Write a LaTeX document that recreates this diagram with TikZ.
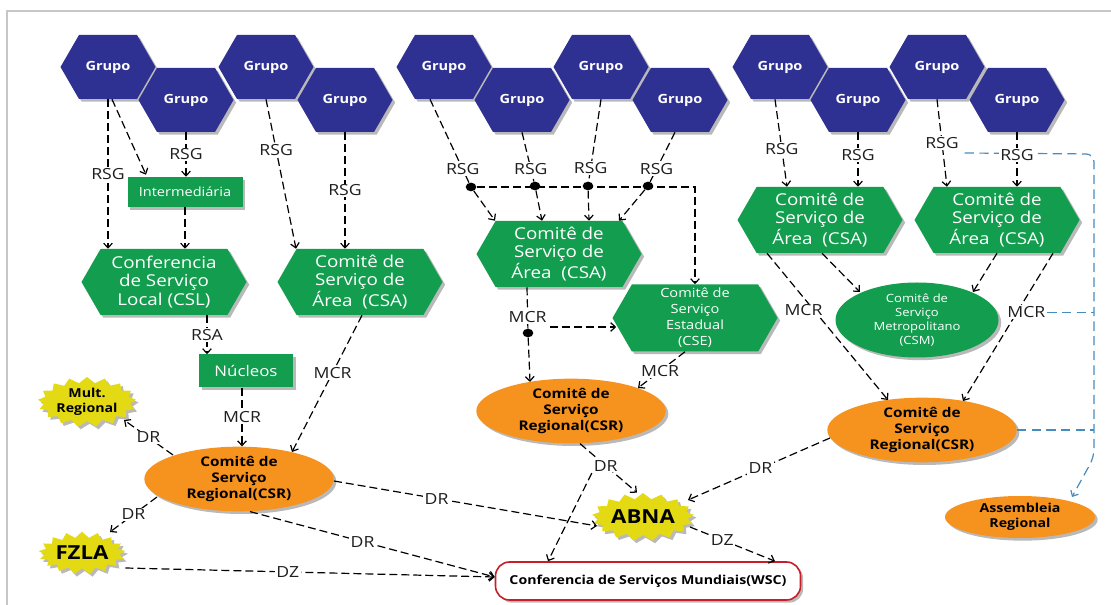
\documentclass[tikz,border=0pt]{standalone}
\usepackage{fontspec}
\setmainfont{Open Sans}[FakeStretch=1.15]
\usetikzlibrary{shapes.symbols,shapes.geometric,arrows.meta,calc,shadows,backgrounds}
\definecolor{navy}{RGB}{46,49,146}
\definecolor{grn}{RGB}{18,158,78}
\definecolor{org}{RGB}{246,146,30}
\definecolor{ylw}{RGB}{228,218,20}
\definecolor{wscred}{RGB}{200,30,40}
\definecolor{bline}{RGB}{70,140,190}
\definecolor{lbltxt}{RGB}{30,30,30}
\tikzset{
  shd/.style={drop shadow={shadow xshift=2pt,shadow yshift=-2pt,fill=black!50,opacity=0.55}},
  grupo/.style={signal, signal to=west and east, signal pointer angle=120, fill=navy, shd,
    minimum width=71.25pt, minimum height=48pt, inner sep=0pt, text=white,
    font=\bfseries\fontsize{9.5}{11}\selectfont},
  ghex/.style={signal, signal to=west and east, signal pointer angle=120, fill=grn, shd,
    minimum width=123.75pt, minimum height=49.5pt, inner sep=0pt, text=white, align=center,
    font=\fontsize{12.25}{13.75}\selectfont},
  grect/.style={rectangle, fill=grn, shd, inner sep=0pt, text=white},
  csr/.style={ellipse, fill=org, shd, minimum width=142pt, minimum height=48.5pt, inner sep=0pt,
    align=center, font=\bfseries\fontsize{10}{11.75}\selectfont},
  burst/.style={starburst, starburst points=17, starburst point height=4.5pt, random starburst=0,
    fill=ylw, shd, inner sep=0pt, align=center},
  conn/.style={draw=black, line width=0.9pt, dash pattern=on 6pt off 3pt,
    -{Straight Barb[length=3.5pt,width=6.5pt]}},
  dline/.style={draw=black, line width=0.9pt, dash pattern=on 6pt off 3pt},
  bluel/.style={draw=bline, line width=0.9pt, dash pattern=on 7pt off 4pt},
  lbl/.style={fill=white, inner sep=1pt, text=lbltxt, font=\fontsize{11.5}{13}\selectfont},
  jdot/.style={ellipse, fill=black, minimum width=8pt, minimum height=6.5pt, inner sep=0pt},
}
\begin{document}
\begin{tikzpicture}[x=0.75pt,y=-0.75pt]
\useasboundingbox (0,0) rectangle (1111,605);
\draw[black!22, line width=0.8pt] (7,605) -- (7,11) -- (1111,11);
% ---------- groups
\node[grupo] (gl1) at (108,67) {Grupo};
\node[grupo] (gl2) at (186,100) {Grupo};
\node[grupo] (gl3) at (266,67) {Grupo};
\node[grupo] (gl4) at (345,100) {Grupo};
\node[grupo] (gm1) at (444,67) {Grupo};
\node[grupo] (gm2) at (522,100) {Grupo};
\node[grupo] (gm3) at (601,67) {Grupo};
\node[grupo] (gm4) at (680,100) {Grupo};
\node[grupo] (gr1) at (780,67) {Grupo};
\node[grupo] (gr2) at (858,100) {Grupo};
\node[grupo] (gr3) at (937,67) {Grupo};
\node[grupo] (gr4) at (1017,100) {Grupo};
% ---------- left cluster nodes
\node[grect, minimum width=86.25pt, minimum height=22.5pt, font=\fontsize{9.5}{11}\selectfont] (int) at (185,192) {Intermediária};
\node[ghex] (csl) at (164,282) {Conferencia\\de Serviço\\Local (CSL)};
\node[ghex] (csaL) at (360,282) {Comitê de\\Serviço de\\Área\ \ (CSA)};
\node[grect, minimum width=70.5pt, minimum height=24.75pt, font=\fontsize{11}{13}\selectfont] (nuc) at (246,371) {Núcleos};
\node[csr] (csrL) at (239,479) {Comitê de\\Serviço\\Regional(CSR)};
\node[burst, minimum width=60pt, minimum height=26pt, font=\bfseries\fontsize{9.25}{11}\selectfont] (mult) at (87,402) {Mult.\\Regional};
\node[burst, minimum width=57pt, minimum height=32pt, font=\bfseries\fontsize{14.5}{16}\selectfont] (fzla) at (82,553) {FZLA};
% ---------- middle cluster nodes
\node[ghex] (csaM) at (559,254) {Comitê de\\Serviço de\\Área\ \ (CSA)};
\node[ghex, minimum height=50.25pt, font=\fontsize{9.5}{12}\selectfont] (cse) at (695,318) {Comitê de\\Serviço\\Estadual\\(CSE)};
\node[csr] (csrM) at (571,411) {Comitê de\\Serviço\\Regional(CSR)};
\node[burst, minimum width=57pt, minimum height=36pt, font=\bfseries\fontsize{14.5}{16}\selectfont] (abna) at (643,517) {ABNA};
\node[rectangle, draw=wscred, line width=1.2pt, fill=white, rounded corners=10.5pt, shd,
  minimum width=228.75pt, minimum height=28.5pt, inner sep=0pt,
  font=\bfseries\fontsize{9.25}{11}\selectfont] (wsc) at (648,581) {Conferencia de Serviços Mundiais(WSC)};
\node[jdot] (d1) at (471,187) {};
\node[jdot] (d2) at (535,186) {};
\node[jdot] (d3) at (588,186) {};
\node[jdot] (d4) at (648,186) {};
\node[jdot] (mdot) at (528,333) {};
% ---------- right cluster nodes
\node[ghex] (csa1) at (820,220) {Comitê de\\Serviço de\\Área\ \ (CSA)};
\node[ghex] (csa2) at (997,220) {Comitê de\\Serviço de\\Área\ \ (CSA)};
\node[ellipse, fill=grn, shd, minimum width=122.25pt, minimum height=56.25pt, inner sep=0pt,
  text=white, align=center, font=\fontsize{8.5}{10.5}\selectfont] (csm) at (917,320) {Comitê de\\Serviço\\Metropolitano\\(CSM)};
\node[csr] (csrR) at (922,430) {Comitê de\\Serviço\\Regional(CSR)};
\node[csr, minimum width=112.5pt, minimum height=31.5pt, font=\bfseries\fontsize{9.25}{11.5}\selectfont] (asm) at (1020,517) {Assembleia\\Regional};
% ---------- left connectors
\draw[conn] (gl1.south) -- node[lbl]{RSG} (gl1.south |- csl.north);
\draw[conn] ($(gl1.south)+(4,0)$) -- ($(int.north)+(-39,-2)$);
\draw[conn] (gl2.south) -- node[lbl]{RSG} (gl2.south |- int.north);
\draw[conn] (int.south) -- (int.south |- csl.north);
\draw[conn] (gl3.south) -- node[lbl,pos=0.34]{RSG} ($(csaL.north)+(-64,0)$);
\draw[conn] (gl4.south) -- node[lbl]{RSG} (gl4.south |- csaL.north);
\draw[conn] ($(csl.south)+(43,0)$) -- node[lbl]{RSA} ($(nuc.north)+(-39,0)$);
\draw[conn] ($(csaL.south)+(2,0)$) -- node[lbl,pos=0.42]{MCR} ($(csrL.center)+(53,-27)$);
\draw[conn] ($(nuc.south)+(-4,0)$) -- node[lbl]{MCR} ($(csrL.north)+(3,0)$);
\draw[conn] ($(csrL.center)+(-66,-24)$) -- node[lbl]{DR} ($(mult.center)+(37,18)$);
\draw[conn] ($(csrL.center)+(-82,18)$) -- node[lbl]{DR} ($(fzla.center)+(28,-21)$);
\draw[conn] ($(csrL.east)+(0,2)$) -- node[lbl,pos=0.39]{DR} ($(abna.center)+(-46,9)$);
\draw[conn] ($(csrL.south)+(11,0)$) -- node[lbl,pos=0.46]{DR} ($(wsc.west)+(0,-4)$);
\draw[conn] ($(fzla.east)+(3,15)$) -- node[lbl,pos=0.44]{DZ} ($(wsc.west)+(0,-4)$);
% ---------- middle connectors
\draw[dline] ($(gm1.south)+(-14,0)$) -- node[lbl,pos=0.84]{RSG} (d1);
\draw[conn] (d1) -- ($(csaM.north)+(-64,0)$);
\draw[dline] (gm2.south) -- node[lbl,pos=0.74]{RSG} (d2);
\draw[conn] (d2) -- ($(csaM.north)+(-17,0)$);
\draw[dline] (gm3.south) -- node[lbl,pos=0.84]{RSG} (d3);
\draw[conn] (d3) -- ($(csaM.north)+(30,0)$);
\draw[dline] ($(gm4.south)+(-5,0)$) -- node[lbl,pos=0.74]{RSG} (d4);
\draw[conn] (d4) -- ($(csaM.north)+(60,0)$);
\draw[conn] (d1) -- (d1 -| cse.north) -- (cse.north);
\draw[dline] ($(csaM.south)+(-32,0)$) -- node[lbl,pos=0.72]{MCR} (mdot);
\draw[conn] (mdot) -- ($(csrM.center)+(-41,-29)$);
\coordinate (mj) at ($(mdot)+(22,-6)$);
\draw[conn] (mj) -- ($(mj -| cse.west)+(4,0)$);
\draw[conn] ($(cse.south)+(-10,0)$) -- node[lbl,pos=0.53]{MCR} ($(csrM.center)+(67,-23)$);
\draw[conn] ($(csrM.south)+(9,0)$) -- node[lbl,pos=0.45](drm){DR} ($(abna.north)+(-6,0)$);
\draw[conn] (drm.south west) -- ($(wsc.north)+(-100,0)$);
\draw[conn] ($(abna.center)+(47,10)$) -- node[lbl,pos=0.38]{DZ} ($(wsc.north)+(127,0)$);
\draw[conn] ($(csrR.center)+(-92,8)$) -- node[lbl,pos=0.49]{DR} ($(abna.center)+(45,-17)$);
% ---------- right connectors
\draw[conn] ($(gr1.south)+(-5,0)$) -- node[lbl,pos=0.57]{RSG} ($(csa1.north)+(-33,0)$);
\draw[conn] (gr2.south) -- node[lbl,pos=0.41]{RSG} (gr2.south |- csa1.north);
\draw[conn] (gr3.south) -- node[lbl,pos=0.5](rsg3){RSG} ($(csa2.north)+(-50,0)$);
\draw[conn] (gr4.south) -- node[lbl,pos=0.41]{RSG} (gr4.south |- csa2.north);
\draw[conn] ($(csa1.south)+(-53,0)$) -- node[lbl,pos=0.39,xshift=-8pt]{MCR} ($(csrR.center)+(-34,-30)$);
\draw[conn] ($(csa1.south)+(2,0)$) -- ($(csm.center)+(-57,-28)$);
\draw[conn] (csa2.south) -- ($(csm.center)+(56,-28)$);
\draw[conn] ($(csa2.south)+(56,0)$) -- node[lbl,pos=0.4,xshift=7pt](mcrr){MCR} ($(csrR.center)+(41,-29)$);
% ---------- blue connectors
\begin{scope}[on background layer]
\coordinate (bv1) at (1094,154);
\coordinate (bv2) at (1094,457);
\draw[bluel, rounded corners=6pt, -{Straight Barb[length=3.5pt,width=6.5pt]}]
  ($(rsg3.east)+(4,10)$) -- (bv1) -- (bv2) -- ($(asm.center)+(52,-20)$);
\draw[bluel] (mcrr.east) -- (mcrr.east -| bv1);
\draw[bluel] (csrR.east) -- (csrR.east -| bv1);
\end{scope}
\end{tikzpicture}
\end{document}
